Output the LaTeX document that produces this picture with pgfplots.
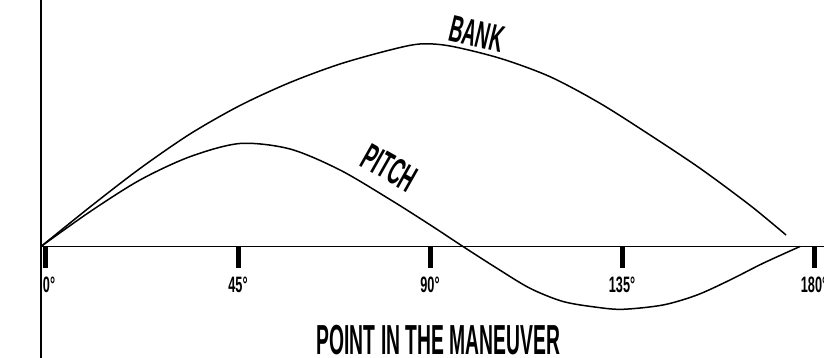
\documentclass[border=0pt]{standalone}
\usepackage{fontspec}
\setmainfont{Liberation Sans}
\newfontfamily\tickfont{Liberation Sans}[FakeStretch=0.57]
\newfontfamily\titlefont{Liberation Sans}[FakeStretch=0.46]
\newfontfamily\labfont{Liberation Sans}[FakeStretch=0.5]
\usepackage{pgfplots}
\pgfplotsset{compat=1.18}
\pgfplotstableread{
x y
-1.17 0
10.31 39.5
22.03 78
33.75 112.5
45.47 141
57.19 164
68.91 182.5
80.63 196.5
87.66 202.5
94.69 200.5
106.41 188.2
118.13 169.8
129.84 143.2
141.56 111.5
153.28 78.2
165.0 41.2
173.44 11.5
}\bank
\pgfplotstableread{
x y
-1.17 0
10.31 34.8
22.03 66.5
33.75 89.8
45.47 103
57.19 97.5
68.91 76.5
80.63 47
90.0 21.7
97.73 0
105.7 -21.8
113.44 -41.8
121.17 -55
129.14 -60.8
135.23 -62.8
144.61 -58.5
152.58 -48.5
160.31 -33.5
168.05 -16.8
176.72 0
}\pitch
\begin{document}
\begin{tikzpicture}
\useasboundingbox (0,0) rectangle (824pt,358pt);
\begin{axis}[
  at={(41pt,0pt)}, anchor=south west,
  scale only axis, width=783pt, height=358pt,
  xmin=-1.17, xmax=182.34, ymin=-111.5, ymax=246.5,
  axis x line=middle, axis y line=left,
  axis line style={line width=1.4pt, -},
  every inner x axis line/.append style={-},
  every outer y axis line/.append style={-},
  xtick={0,45,90,135,180},
  xticklabels={\makebox[0pt][l]{\hspace*{-3pt}0°},45°,90°,135°,180°},
  ytick=\empty,
  tick align=outside, major tick length=21.5pt,
  xtick style={line width=5pt, black},
  xticklabel style={font=\tickfont\bfseries\fontsize{22.3}{24}\selectfont, anchor=base, inner sep=0pt, yshift=-25pt},
  clip=false,
]
\addplot[black, line width=1.5pt, smooth] table[x=x,y=y] {\bank};
\addplot[black, line width=1.5pt, smooth] table[x=x,y=y] {\pitch};
\node[font=\labfont\bfseries\fontsize{37.7}{40}\selectfont, anchor=base west, rotate=-13.5, inner sep=0pt] at (axis cs:94.05,206.5) {BANK};
\node[font=\labfont\bfseries\fontsize{37.7}{40}\selectfont, anchor=base west, rotate=-29.5, inner sep=0pt] at (axis cs:73.2,81.5) {PITCH};
\node[font=\titlefont\bfseries\fontsize{42}{44}\selectfont, anchor=base, inner sep=0pt] at (axis cs:92,-108.5) {POINT IN THE MANEUVER};
\end{axis}
\end{tikzpicture}
\end{document}
